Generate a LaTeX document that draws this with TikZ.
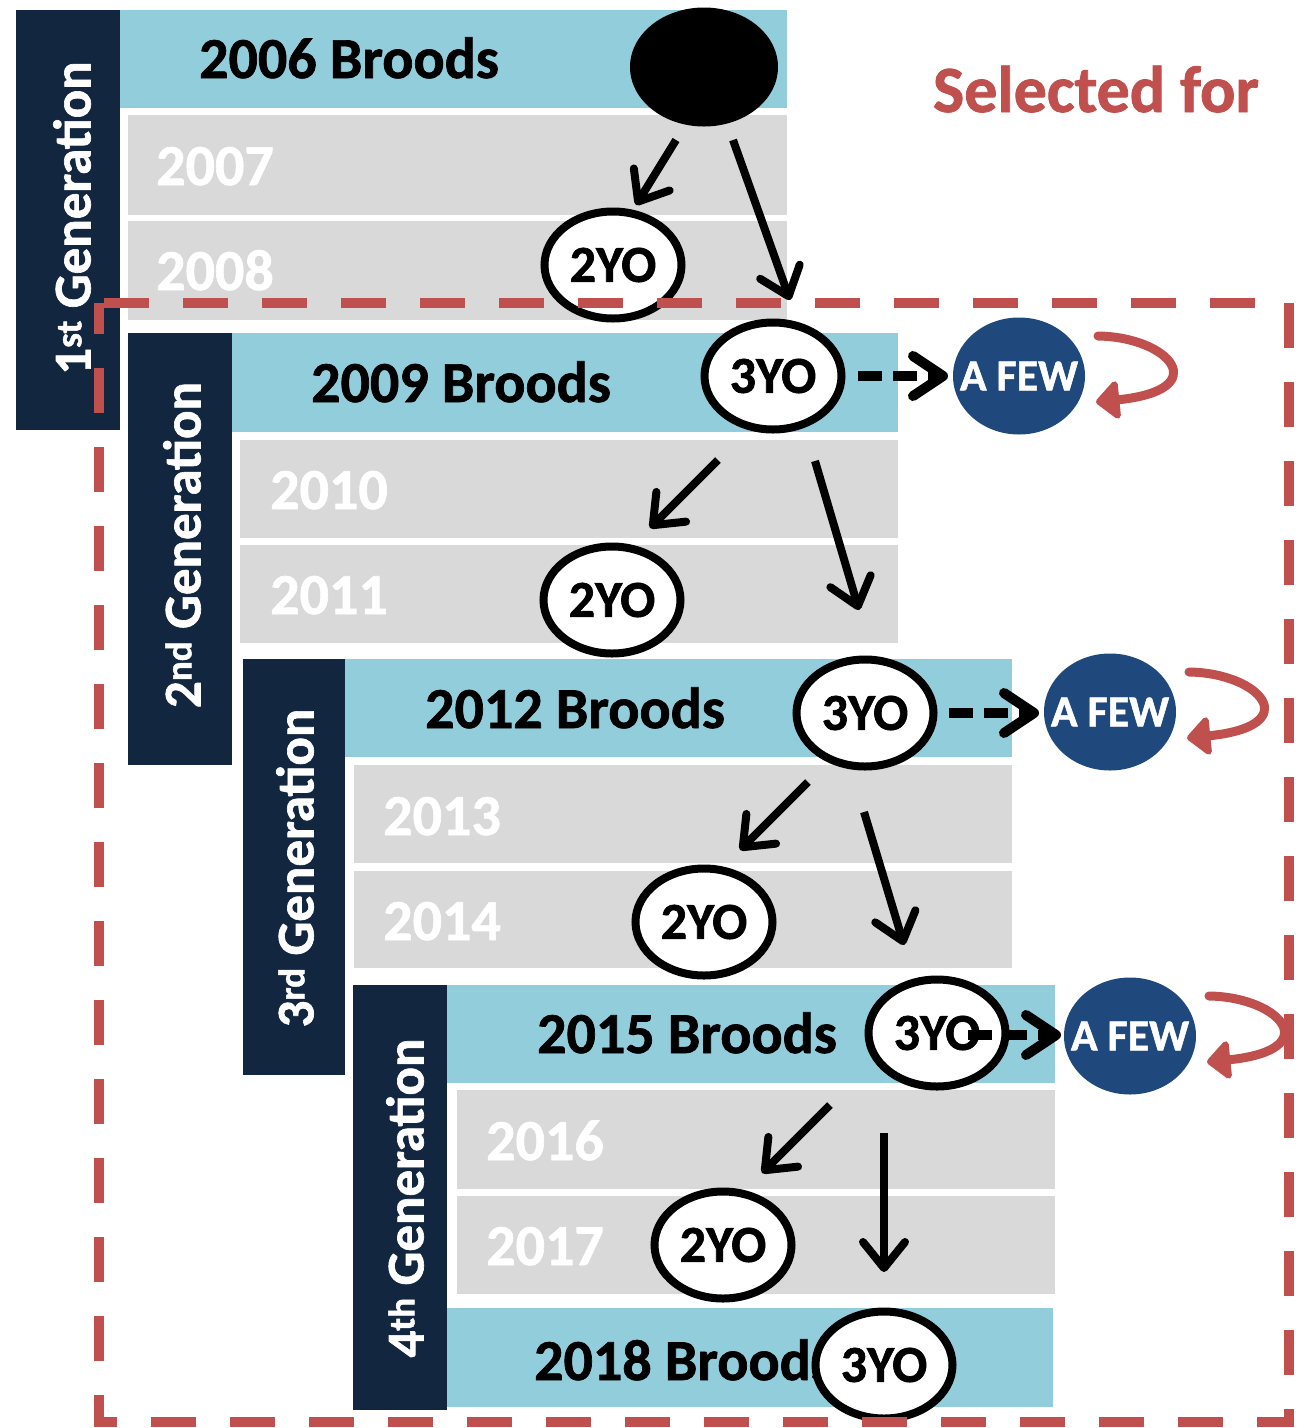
\documentclass[tikz,border=0pt]{standalone}
\usepackage{fontspec}
\setmainfont{Carlito}[BoldFont={Carlito Bold}, BoldFeatures={FakeBold=1.2}]
\usetikzlibrary{shapes.geometric,arrows.meta}
\definecolor{navy}{RGB}{18,38,64}
\definecolor{lblue}{RGB}{146,205,220}
\definecolor{lgray}{RGB}{217,217,217}
\definecolor{selred}{RGB}{192,80,77}
\definecolor{dblue}{RGB}{31,73,125}
\tikzset{
  navybox/.style={fill=navy},
  barbox/.style={fill=lblue},
  rowbox/.style={fill=lgray},
  broodtxt/.style={font=\fontsize{58}{60}\selectfont\bfseries, text=black, anchor=base, inner sep=0pt},
  yeartxt/.style={font=\fontsize{58}{60}\selectfont\bfseries, text=white, anchor=base, inner sep=0pt},
  gentxt/.style={font=\fontsize{53}{56}\selectfont\bfseries, text=white, rotate=90, inner sep=0pt},
  ageell/.style={ellipse, draw=black, line width=8pt, fill=white, minimum width=137pt, minimum height=107pt, inner sep=0pt, font=\fontsize{52}{54}\selectfont\bfseries},
  fewcirc/.style={ellipse, fill=dblue, minimum width=132pt, minimum height=117pt, inner sep=0pt},
  fewtxt/.style={inner sep=0pt, text=white, font=\fontsize{44}{46}\selectfont\bfseries},
  genarr/.style={-{Straight Barb[length=26pt,width=42pt,round]}, line width=8pt, line join=round},
  selarr/.style={-{Straight Barb[length=30pt,width=40pt,round]}, line width=10pt, dash pattern=on 24pt off 11pt, line join=round},
  looparr/.style={draw=selred, line width=9pt, line cap=round, -{Triangle[length=25pt,width=44pt,round]}},
  selbox/.style={draw=selred, line width=10pt, dash pattern=on 45pt off 34pt, dash phase=14pt}
}
\begin{document}
\begin{tikzpicture}[x=1pt,y=-1pt]
\useasboundingbox[fill=white] (0,0) rectangle (1304,1428);

% ---------- Generation 1 ----------
\fill[navybox] (16,10) rectangle (120,430);
\fill[barbox] (120,10) rectangle (787,108);
\fill[rowbox] (128,115) rectangle (787,215);
\fill[rowbox] (128,221) rectangle (787,320);
\node[gentxt] (g1lab) at (72,218) {1\textsuperscript{st} Generation};
\node[broodtxt] (b2006) at (349,78) {2006 Broods};
\node[yeartxt] (y2007) at (215,185) {2007};
\node[yeartxt] (y2008) at (215,290) {2008};

% ---------- Generation 2 ----------
\fill[navybox] (128,333) rectangle (232,765);
\fill[barbox] (232,333) rectangle (898,432);
\fill[rowbox] (240,440) rectangle (898,538);
\fill[rowbox] (240,545) rectangle (898,643);
\node[gentxt] (g2lab) at (182,545) {2\textsuperscript{nd} Generation};
\node[broodtxt] (b2009) at (461,402) {2009 Broods};
\node[yeartxt] (y2010) at (329,509) {2010};
\node[yeartxt] (y2011) at (329,614) {2011};

% ---------- Generation 3 ----------
\fill[navybox] (243,659) rectangle (345,1075);
\fill[barbox] (345,659) rectangle (1012,757);
\fill[rowbox] (354,765) rectangle (1012,863);
\fill[rowbox] (354,871) rectangle (1012,968);
\node[gentxt] (g3lab) at (295,868) {3\textsuperscript{rd} Generation};
\node[broodtxt] (b2012) at (575,728) {2012 Broods};
\node[yeartxt] (y2013) at (442,835) {2013};
\node[yeartxt] (y2014) at (442,940) {2014};

% ---------- Generation 4 ----------
\fill[navybox] (353,985) rectangle (447,1410);
\fill[barbox] (447,985) rectangle (1055,1083);
\fill[rowbox] (457,1090) rectangle (1055,1189);
\fill[rowbox] (457,1196) rectangle (1055,1294);
\fill[barbox] (447,1308) rectangle (1053,1407);
\node[gentxt] (g4lab) at (405,1198) {4\textsuperscript{th} Generation};
\node[broodtxt] (b2015) at (687,1053) {2015 Broods};
\node[yeartxt] (y2016) at (545,1160) {2016};
\node[yeartxt] (y2017) at (545,1265) {2017};
\node[broodtxt] (b2018) at (684,1380) {2018 Broods};

% ---------- title ----------
\node[font=\fontsize{66}{68}\selectfont\bfseries, text=selred, anchor=base, inner sep=0pt] (sel) at (1096,112) {Selected for};

% ---------- age ellipses ----------
\node[ellipse, fill=black, minimum width=148pt, minimum height=119pt, inner sep=0pt] (e0) at (704,67) {};
\node[ageell] (y1) at (613,265) {2YO};
\node[ageell] (t2) at (773,376) {3YO};
\node[ageell] (y2) at (612,600) {2YO};
\node[ageell] (t3) at (865,713) {3YO};
\node[ageell] (y3) at (704,922) {2YO};
\node[ageell] (t4) at (937,1033) {3YO};
\node[ageell] (y4) at (723,1245) {2YO};
\node[ageell] (t5) at (884,1365) {3YO};

\node[fewcirc] (f2) at (1019,376) {};
\node[fewcirc] (f3) at (1110,712) {};
\node[fewcirc] (f4) at (1130,1036) {};
\node[fewtxt] (f2t) at (f2) {A FEW};
\node[fewtxt] (f3t) at (f3) {A FEW};
\node[fewtxt] (f4t) at (f4) {A FEW};

% ---------- arrow end points ----------
\coordinate (a1s) at (676,140); \coordinate (a1e) at (636,205);
\coordinate (b1s) at (733,140); \coordinate (b1e) at (790,300);
\coordinate (a2s) at (718,460); \coordinate (a2e) at (650,528);
\coordinate (b2s) at (815,461); \coordinate (b2e) at (859,610);
\coordinate (a3s) at (808,782); \coordinate (a3e) at (740,850);
\coordinate (b3s) at (864,812); \coordinate (b3e) at (904,945);
\coordinate (a4s) at (830,1105); \coordinate (a4e) at (762,1173);
\coordinate (b4s) at (884,1133); \coordinate (b4e) at (884,1272);

\draw[genarr] (a1s) -- (a1e);
\draw[genarr] (b1s) -- (b1e);
\draw[genarr] (a2s) -- (a2e);
\draw[genarr] (b2s) -- (b2e);
\draw[genarr] (a3s) -- (a3e);
\draw[genarr] (b3s) -- (b3e);
\draw[genarr] (a4s) -- (a4e);
\draw[genarr] (b4s) -- (b4e);

% ---------- dashed selection arrows ----------
\coordinate (s2s) at (858,376); \coordinate (s2e) at (948,376);
\coordinate (s3s) at (949,713); \coordinate (s3e) at (1039,713);
\coordinate (s4s) at (968,1035); \coordinate (s4e) at (1061,1035);
\draw[selarr] (s2s) -- (s2e);
\draw[selarr] (s3s) -- (s3e);
\draw[selarr] (s4s) -- (s4e);

% ---------- red loops ----------
\draw[looparr] (1098,336) .. controls (1170,337) and (1215,390) .. (1096,402);
\draw[looparr] (1189,672) .. controls (1261,673) and (1306,726) .. (1187,738);
\draw[looparr] (1209,996) .. controls (1281,997) and (1326,1050) .. (1207,1062);

% ---------- selection frame ----------
\draw[selbox] (99,303) rectangle (1289,1422);
\end{tikzpicture}
\end{document}
